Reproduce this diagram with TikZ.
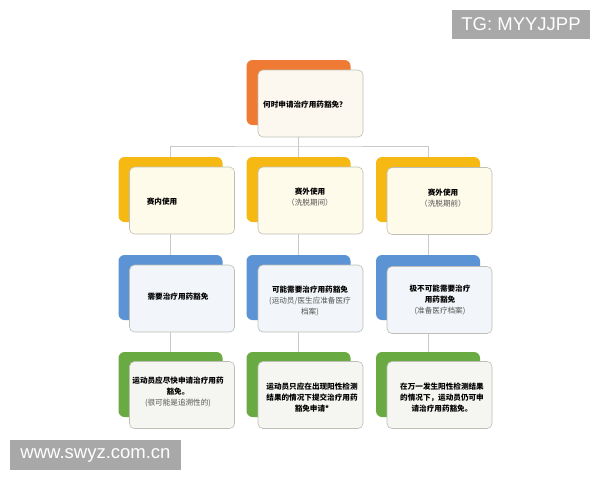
\documentclass[tikz,border=0pt]{standalone}
\usepackage{fontspec}
\newfontfamily\cjk{Noto Sans CJK SC}
\newfontfamily\wmfont{Liberation Sans}
\definecolor{corange}{HTML}{EE7A34}
\definecolor{cyellow}{HTML}{F6B914}
\definecolor{cblue}{HTML}{5B93D4}
\definecolor{cgreen}{HTML}{6AAA42}
\definecolor{creamA}{HTML}{FDF8EF}
\definecolor{creamB}{HTML}{FFFBEA}
\definecolor{paleblue}{HTML}{F2F5F9}
\definecolor{palegreen}{HTML}{F5F6F2}
\definecolor{cardline}{HTML}{BEBEB6}
\definecolor{connline}{HTML}{C9C9C9}
\definecolor{wmgray}{HTML}{A8A8A8}
\definecolor{subtext}{HTML}{555555}
\tikzset{
  backbox/.style={draw=none, rounded corners=6pt, minimum width=104pt, minimum height=65pt, inner sep=0pt},
  card/.style={draw=cardline, line width=0.6pt, rounded corners=5pt, minimum width=105pt, minimum height=67pt, inner sep=0pt},
  label/.style={font=\cjk\fontsize{7.6}{11}\selectfont, align=center, text=black, inner sep=0pt},
  conn/.style={draw=connline, line width=0.6pt},
  wmbox/.style={fill=wmgray, text=white, font=\wmfont\fontsize{18.5}{18.5}\selectfont, inner sep=0pt}
}
\newcommand{\sub}[1]{{\color{subtext}\mdseries #1}}
\begin{document}
\begin{tikzpicture}[x=1pt,y=-1pt]
\useasboundingbox (0,0) rectangle (600,480);
\fill[white] (0,0) rectangle (600,480);
% back boxes
\node[backbox, fill=corange] (tb) at (298.5,92.5) {};
\node[backbox, fill=cyellow] (a2) at (170.5,189.5) {};
\node[backbox, fill=cyellow] (b2) at (298.5,189.5) {};
\node[backbox, fill=cyellow] (c2) at (428,189.5) {};
\node[backbox, fill=cblue] (a3) at (170.5,287.5) {};
\node[backbox, fill=cblue] (b3) at (298.5,287.5) {};
\node[backbox, fill=cblue] (c3) at (428,287.5) {};
\node[backbox, fill=cgreen] (a4) at (170.5,384.5) {};
\node[backbox, fill=cgreen] (b4) at (298.5,384.5) {};
\node[backbox, fill=cgreen] (c4) at (428,384.5) {};
% connectors
\coordinate (hub) at (298.5,146);
\draw[conn] (tb.south) -- (hub);
\draw[conn] (a2.north) |- (hub) -| (c2.north);
\draw[conn] (hub) -- (b2.north);
\draw[conn] (a2.south) -- (a3.north);
\draw[conn] (b2.south) -- (b3.north);
\draw[conn] (c2.south) -- (c3.north);
\draw[conn] (a3.south) -- (a4.north);
\draw[conn] (b3.south) -- (b4.north);
\draw[conn] (c3.south) -- (c4.north);
% front cards
\node[card, fill=creamA] (tf) at (310.5,103.5) {};
\node[card, fill=creamB] (a2f) at (182,200.5) {};
\node[card, fill=creamB] (b2f) at (310.5,200.5) {};
\node[card, fill=creamB] (c2f) at (439.5,201) {};
\node[card, fill=paleblue] (a3f) at (182,298.5) {};
\node[card, fill=paleblue] (b3f) at (310.5,298.5) {};
\node[card, fill=paleblue] (c3f) at (439.5,300) {};
\node[card, fill=palegreen] (a4f) at (182,395) {};
\node[card, fill=palegreen] (b4f) at (310.5,395) {};
\node[card, fill=palegreen] (c4f) at (439.5,395) {};
% texts
\node[label] (tt) at (305,105) {\bfseries 何时申请治疗用药豁免？};
\node[label] (a2t) at (162,202) {\bfseries 赛内使用};
\node[label] (b2t) at (310,197.5) {\bfseries 赛外使用\\\sub{（洗脱期间）}};
\node[label] (c2t) at (443,198) {\bfseries 赛外使用\\\sub{（洗脱期前）}};
\node[label] (a3t) at (178,297) {\bfseries 需要治疗用药豁免};
\node[label] (b3t) at (310,300.5) {\bfseries 可能需要治疗用药豁免\\\sub{(运动员/医生应准备医疗}\\\sub{档案)}};
\node[label] (c3t) at (440,300) {\bfseries 极不可能需要治疗\\\bfseries 用药豁免\\\sub{(准备医疗档案)}};
\node[label] (a4t) at (178,392) {\bfseries 运动员应尽快申请治疗用药\\\bfseries 豁免。\\\sub{(很可能是追溯性的)}};
\node[label] (b4t) at (312,398) {\bfseries 运动员只应在出现阳性检测\\\bfseries 结果的情况下提交治疗用药\\\bfseries 豁免申请*};
\node[label] (c4t) at (442,398) {\bfseries 在万一发生阳性检测结果\\\bfseries 的情况下，运动员仍可申\\\bfseries 请治疗用药豁免。};
% watermarks
\node[wmbox, minimum width=138pt, minimum height=29pt] (wm1) at (521,24.5) {TG: MYYJJPP};
\node[wmbox, minimum width=171pt, minimum height=30pt] (wm2) at (95.5,455) {www.swyz.com.cn};
\end{tikzpicture}
\end{document}
